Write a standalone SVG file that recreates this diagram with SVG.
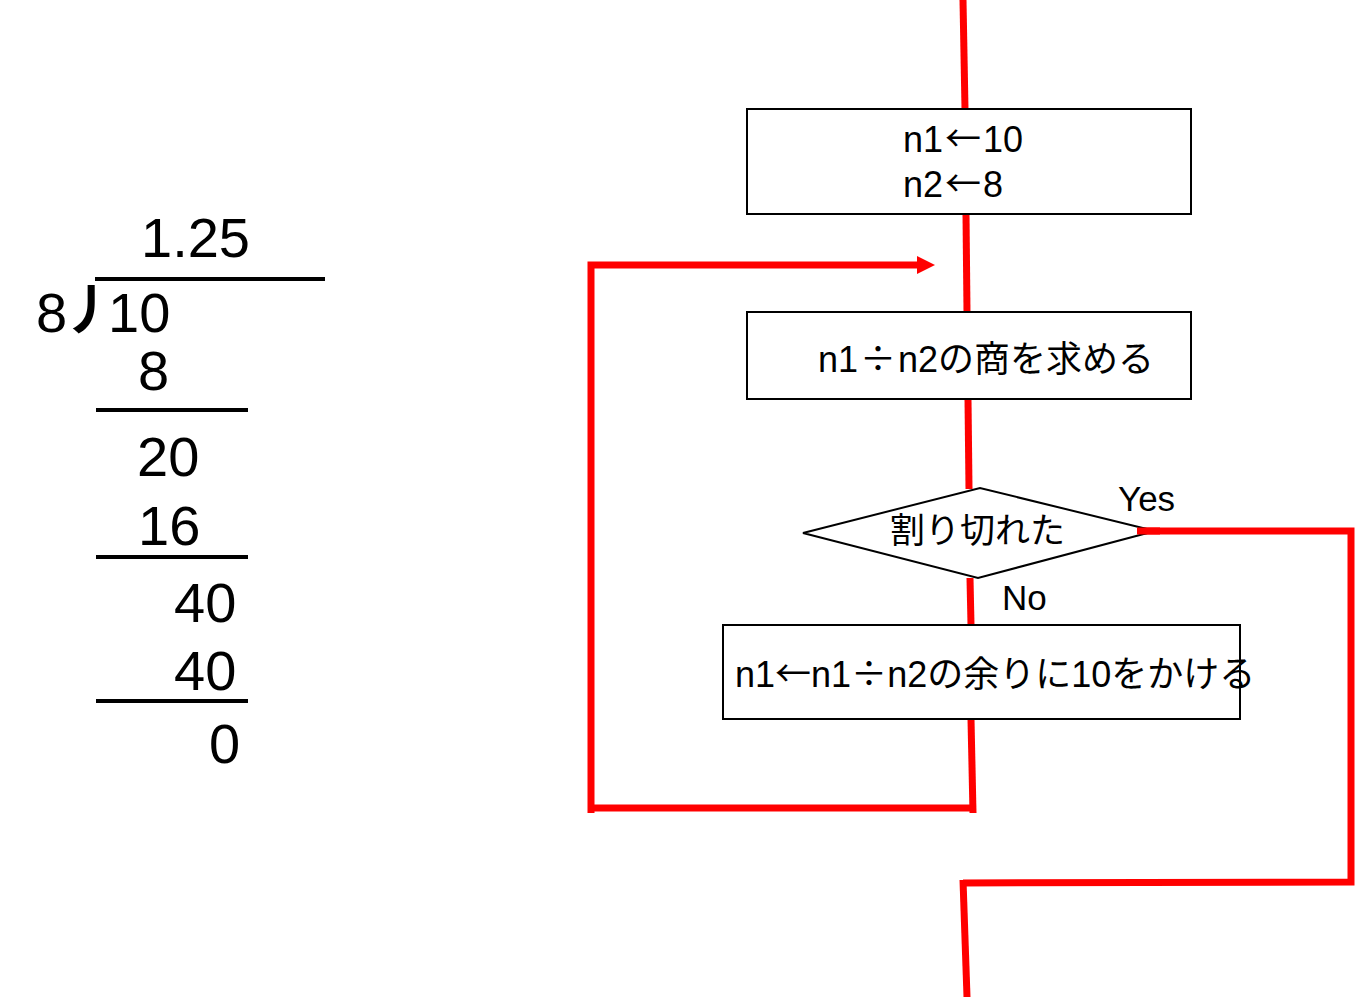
<svg xmlns="http://www.w3.org/2000/svg" width="1355" height="998" viewBox="0 0 1355 998">
<style>
.num{font-family:"Liberation Sans","Noto Sans CJK JP",sans-serif;font-size:56px;fill:#000}
.t{font-family:"Liberation Sans","Noto Sans CJK JP",sans-serif;font-size:35px;fill:#000}
.b{font-size:36px}
.cj{font-family:"Noto Sans CJK JP",sans-serif}
.rule{stroke:#000;stroke-width:4}
.box{fill:#fff;stroke:#000;stroke-width:2}
.red{stroke:#ff0000;stroke-width:7;fill:none}
</style>
<rect width="1355" height="998" fill="#fff"/>
<g id="division">
<text class="num" x="141" y="257">1.25</text>
<line class="rule" x1="95" y1="279" x2="325" y2="279"/>
<text class="num" x="36" y="332">8<tspan class="cj" x="62" y="330" font-weight="bold" font-size="54">丿</tspan><tspan x="108" y="332">10</tspan></text>
<text class="num" x="138" y="390">8</text>
<line class="rule" x1="96" y1="410" x2="248" y2="410"/>
<text class="num" x="137" y="476">20</text>
<text class="num" x="138" y="545">16</text>
<line class="rule" x1="96" y1="557" x2="248" y2="557"/>
<text class="num" x="174" y="622">40</text>
<text class="num" x="174" y="690">40</text>
<line class="rule" x1="96" y1="701" x2="248" y2="701"/>
<text class="num" x="209" y="763">0</text>
</g>
<g id="connectors">
<line class="red" x1="963" y1="0" x2="965" y2="109"/>
<line class="red" x1="966" y1="214" x2="967" y2="312"/>
<line class="red" x1="968" y1="399" x2="969" y2="489"/>
<line class="red" x1="970" y1="578" x2="971" y2="625"/>
<line class="red" x1="971" y1="719" x2="973" y2="813"/>
<polyline class="red" points="591,813 591,265 918,265"/>
<polygon points="917,256 935,265 917,274" fill="#ff0000"/>
<line class="red" x1="588" y1="808" x2="976" y2="808"/>
<polyline class="red" points="1137,531 1351,531 1351,882 963,883"/>
<line class="red" x1="963" y1="880" x2="967" y2="997"/>
</g>
<g id="n1">
<rect class="box" x="747" y="109" width="444" height="105"/>
<text class="t b" x="903" y="152">n1<tspan class="cj" dx="2">←</tspan><tspan dx="2">10</tspan><tspan x="903" y="197">n2</tspan><tspan class="cj" dx="2">←</tspan><tspan dx="2">8</tspan></text>
</g>
<g id="n2">
<rect class="box" x="747" y="312" width="444" height="87"/>
<text class="t b" x="818" y="372">n1<tspan class="cj" dx="2">÷</tspan><tspan dx="2">n2の商を求める</tspan></text>
</g>
<g id="n3">
<polygon class="box" points="803,533 980,488 1155,531 978,578"/>
<text class="t" x="890" y="543">割り切れた</text>
</g>
<g id="labels">
<text class="t" x="1118" y="511">Yes</text>
<text class="t" x="1002" y="610">No</text>
</g>
<g id="n4">
<rect class="box" x="723" y="625" width="517" height="94"/>
<text class="t b" x="735" y="687">n1<tspan class="cj">←</tspan>n1<tspan class="cj">÷</tspan>n2の余りに10をかける</text>
</g>
<line class="red" x1="1137" y1="531" x2="1160" y2="531"/>
</svg>
